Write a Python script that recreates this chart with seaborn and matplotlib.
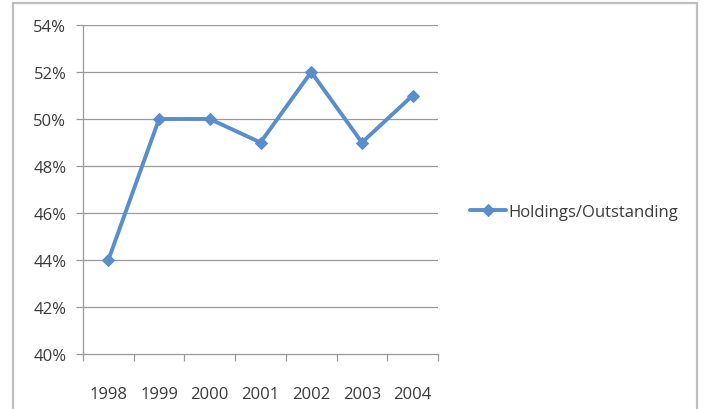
import matplotlib
matplotlib.use("Agg")
import matplotlib.pyplot as plt
from matplotlib.patches import Rectangle
from matplotlib.ticker import FixedLocator, FixedFormatter
import numpy as np
import pandas as pd
import seaborn as sns

years = ["1998", "1999", "2000", "2001", "2002", "2003", "2004"]
ratio = [44, 50, 50, 49, 52, 49, 51]
series_name = "Holdings/Outstanding"
y_ticks = [40, 42, 44, 46, 48, 50, 52, 54]

sns.set_theme(style="white")
plt.rcParams["font.family"] = ["Open Sans", "DejaVu Sans"]

df = pd.DataFrame({"pos": np.arange(len(years)), "value": ratio, "series": series_name})

fig = plt.figure(figsize=(7.04, 4.10), dpi=100)
ax = fig.add_axes([83 / 704, 1 - 355 / 410, (438 - 83) / 704, (355 - 26) / 410])

grid_c = "#9A9A9A"
line_c = "#5A8DCC"
text_c = "#3A3A3A"
fs = 12

for yv in y_ticks[1:]:
    ax.axhline(yv, color=grid_c, lw=0.9, zorder=0)

sns.lineplot(data=df, x="pos", y="value", hue="series", palette=[line_c],
             marker="D", markersize=6.5, markeredgecolor=line_c, linewidth=2.8,
             ax=ax, zorder=3)

ax.set_xlim(-0.5, len(years) - 0.5)
ax.set_ylim(40, 54)
ax.set_xlabel("")
ax.set_ylabel("")

# category boundaries get tick marks, labels sit at category centres
ax.xaxis.set_major_locator(FixedLocator(np.arange(len(years) + 1) - 0.5))
ax.xaxis.set_major_formatter(FixedFormatter([""] * (len(years) + 1)))
ax.xaxis.set_minor_locator(FixedLocator(np.arange(len(years))))
ax.xaxis.set_minor_formatter(FixedFormatter(years))
ax.tick_params(axis="x", which="major", length=5, width=0.9, color=grid_c, direction="out", bottom=True)
ax.tick_params(axis="x", which="minor", length=0, pad=23, labelsize=fs, labelcolor=text_c, bottom=True)

ax.set_yticks(y_ticks)
ax.set_yticklabels([f"{v}%" for v in y_ticks])
ax.tick_params(axis="y", length=5, width=0.9, color=grid_c, direction="out", left=True,
               pad=7, labelsize=fs, labelcolor=text_c)

for side in ["top", "right"]:
    ax.spines[side].set_visible(False)
for side in ["left", "bottom"]:
    ax.spines[side].set_color(grid_c)
    ax.spines[side].set_linewidth(0.9)

leg = ax.legend(loc="center left", bbox_to_anchor=(463 / 704, 1 - 213 / 410),
                bbox_transform=fig.transFigure, frameon=False, fontsize=fs,
                handlelength=2.2, handletextpad=0.15, borderaxespad=0)
for t in leg.get_texts():
    t.set_color(text_c)

fig.patches.append(Rectangle((13 / 704, -0.02), (697 - 13) / 704, 1 - 4 / 410 + 0.02,
                             transform=fig.transFigure, fill=False,
                             edgecolor="#BFBFBF", linewidth=1.6, zorder=0))

fig.savefig("out.png", dpi=100)
